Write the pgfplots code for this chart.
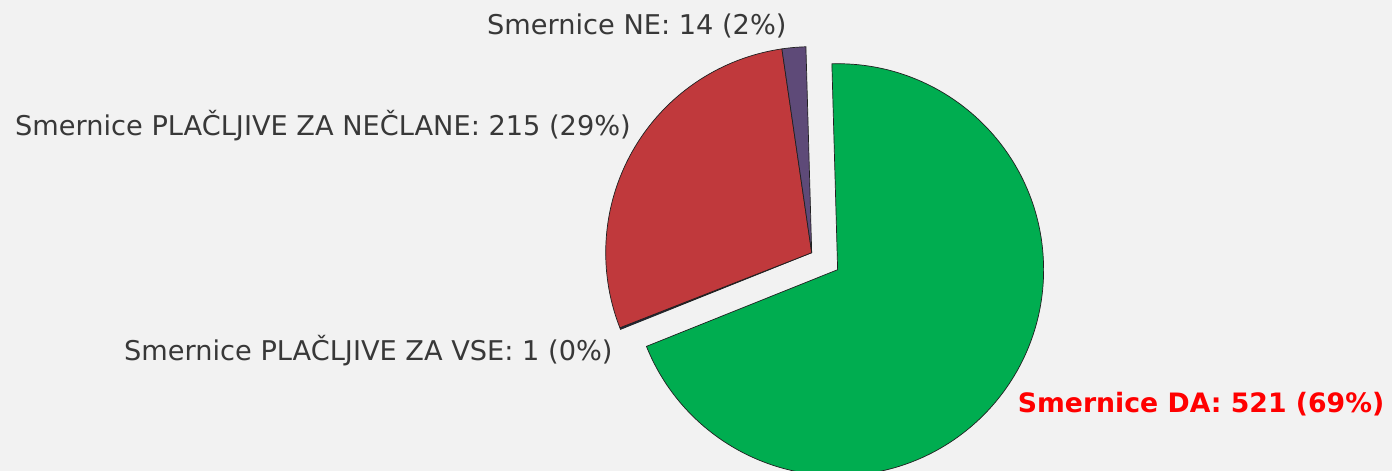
\documentclass[border=0pt]{standalone}
\usepackage{pgfplots}
\pgfplotsset{compat=1.18}
\usetikzlibrary{calc}
\usepackage{fontspec}
\setmainfont{DejaVu Sans}
\definecolor{bgc}{HTML}{F2F2F2}
\definecolor{cDA}{HTML}{00AD50}
\definecolor{cVSE}{HTML}{1F2A44}
\definecolor{cNEC}{HTML}{C0393C}
\definecolor{cNE}{HTML}{5E4A78}
\definecolor{edge}{HTML}{202020}
\definecolor{txt}{HTML}{383838}
% data
\def\vDA{521}
\def\vVSE{1}
\def\vNEC{215}
\def\vNE{14}
\pgfmathsetmacro\total{\vDA+\vVSE+\vNEC+\vNE}
\def\start{91.6}
\def\R{206}
\pgfmathsetmacro\aA{\start}
\pgfmathsetmacro\aB{\aA-360*(\vDA/\total)}
\pgfmathsetmacro\aC{\aB-360*(\vVSE/\total)}
\pgfmathsetmacro\aD{\aC-360*(\vNEC/\total)}
\pgfmathsetmacro\aE{\aD-360*(\vNE/\total)}
\pgfmathsetmacro\mDA{(\aA+\aB)/2}
\begin{document}
\begin{tikzpicture}
\useasboundingbox (0,0) rectangle (1392pt,471pt);
\fill[bgc] (0,0) rectangle (1392pt,471pt);
\begin{axis}[at={(0,0)},anchor=south west,scale only axis,
  width=1392pt,height=471pt,xmin=0,xmax=1392,ymin=0,ymax=471,
  hide axis,clip=true]
% exploded slice
\filldraw[fill=cDA,draw=edge,line width=0.7pt]
  ($(axis cs:811.7,218.3)+(\mDA:31pt)$) -- ++(\aA:\R pt)
  arc[start angle=\aA,end angle=\aB,radius=\R pt] -- cycle;
\filldraw[fill=cVSE,draw=edge,line width=0.7pt]
  (axis cs:811.7,218.3) -- ++(\aB:\R pt)
  arc[start angle=\aB,end angle=\aC,radius=\R pt] -- cycle;
\filldraw[fill=cNEC,draw=edge,line width=0.7pt]
  (axis cs:811.7,218.3) -- ++(\aC:\R pt)
  arc[start angle=\aC,end angle=\aD,radius=\R pt] -- cycle;
\filldraw[fill=cNE,draw=edge,line width=0.7pt]
  (axis cs:811.7,218.3) -- ++(\aD:\R pt)
  arc[start angle=\aD,end angle=\aE,radius=\R pt] -- cycle;
% labels
\node[anchor=base west,inner sep=0pt,text=txt,font=\fontsize{27.2}{30}\selectfont]
  at (axis cs:487,436.7) {Smernice NE: \vNE\ (2\%)};
\node[anchor=base west,inner sep=0pt,text=txt,font=\fontsize{27.2}{30}\selectfont]
  at (axis cs:15,335) {Smernice PLAČLJIVE ZA NEČLANE: \vNEC\ (29\%)};
\node[anchor=base west,inner sep=0pt,text=txt,font=\fontsize{27.2}{30}\selectfont]
  at (axis cs:124,110.3) {Smernice PLAČLJIVE ZA VSE: \vVSE\ (0\%)};
\node[anchor=base west,inner sep=0pt,text=red,font=\fontsize{26.7}{30}\selectfont\bfseries]
  at (axis cs:1017.7,58.3) {Smernice DA: \vDA\ (69\%)};
\end{axis}
\end{tikzpicture}
\end{document}
